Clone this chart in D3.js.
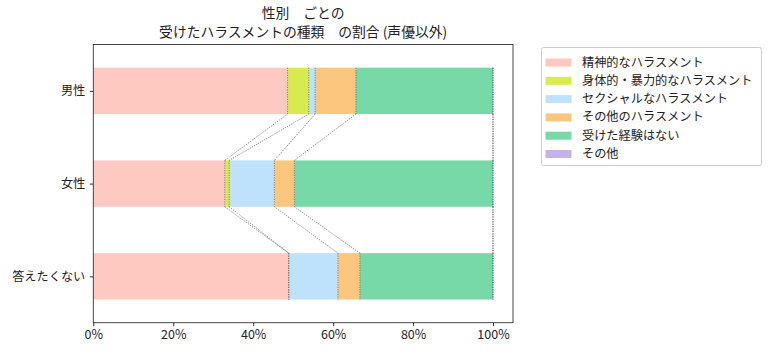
<!DOCTYPE html>
<html><head><meta charset="utf-8">
<script src="https://cdn.jsdelivr.net/npm/d3@7"></script>
<style>body{margin:0;background:#fff}svg{display:block}text{font-family:"Noto Sans CJK JP","Noto Sans",sans-serif;fill:#222}</style>
</head><body><svg id="c" width="772" height="356"></svg>
<script>
const categories = ["男性", "女性", "答えたくない"];
const seriesNames = ["精神的なハラスメント", "身体的・暴力的なハラスメント", "セクシャルなハラスメント", "その他のハラスメント", "受けた経験はない", "その他"];
const colors = ["#fec9c1", "#d8eb4e", "#bee2fb", "#fdc67e", "#77d9a8", "#c7b2e7"];
const male   = [48.6, 5.3, 1.6, 10.2, 34.3, 0];
const female = [32.9, 1.1, 11.3, 5.0, 49.7, 0];
const noAns  = [48.9, 0.0, 12.3, 5.5, 33.3, 0];
const xTicks = [0, 20, 40, 60, 80, 100];
const titleLines = ["性別　ごとの", "受けたハラスメントの種類　の割合 (声優以外)"];

const values = [male, female, noAns];
const svg = d3.select("#c");
const L = 93.3, R = 513, T = 44.5, B = 322.7;
const x = d3.scaleLinear().domain([0, 105]).range([L, R]);
const y = d3.scaleLinear().domain([-0.5, 2.5]).range([T, B]);
const bh = 0.5;

const cum = values.map(v => { let s = 0; return v.map(d => { const a = s; s += d; return [a, s]; }); });

cum.forEach((row, i) => {
  row.forEach((seg, j) => {
    if (seg[1] - seg[0] <= 0) return;
    svg.append("rect").attr("x", x(seg[0])).attr("width", x(seg[1]) - x(seg[0]))
      .attr("y", y(i - bh / 2)).attr("height", y(i + bh / 2) - y(i - bh / 2))
      .attr("fill", colors[j]);
  });
});

const dot = sel => sel.attr("stroke", "#555").attr("stroke-width", 0.7).attr("stroke-dasharray", "1.2,1.2").attr("fill", "none");
cum.forEach((row, i) => {
  row.forEach((seg, j) => {
    svg.append("line").attr("x1", x(seg[1])).attr("x2", x(seg[1]))
      .attr("y1", y(i - bh / 2)).attr("y2", y(i + bh / 2)).call(dot);
    if (i < cum.length - 1) {
      svg.append("line").attr("x1", x(seg[1])).attr("x2", x(cum[i + 1][j][1]))
        .attr("y1", y(i + bh / 2)).attr("y2", y(i + 1 - bh / 2)).call(dot);
    }
  });
});

svg.append("rect").attr("x", L).attr("y", T).attr("width", R - L).attr("height", B - T)
  .attr("fill", "none").attr("stroke", "#333").attr("stroke-width", 0.9);

const xa = svg.append("g").attr("transform", `translate(0,${B})`)
  .call(d3.axisBottom(x).tickValues(xTicks).tickFormat(d => d + "%").tickSize(3.5).tickPadding(3.5));
xa.select(".domain").remove();
xa.selectAll("line").attr("stroke", "#333");
xa.selectAll("text").style("font-size", "12.5px").attr("fill", "#222");

const ya = svg.append("g").attr("transform", `translate(${L},0)`)
  .call(d3.axisLeft(y).tickValues([0, 1, 2]).tickFormat(i => categories[i]).tickSize(3.5).tickPadding(4.5));
ya.select(".domain").remove();
ya.selectAll("line").attr("stroke", "#333");
ya.selectAll("text").style("font-size", "12.2px").attr("fill", "#222");

titleLines.forEach((t, k) => {
  svg.append("text").attr("x", (L + R) / 2).attr("y", 18 + k * 19).attr("text-anchor", "middle")
    .style("font-size", "13.8px").text(t);
});

const lg = svg.append("g");
lg.append("rect").attr("x", 541.5).attr("y", 47.5).attr("width", 220).attr("height", 118).attr("rx", 2)
  .attr("fill", "#fff").attr("stroke", "#ccc").attr("stroke-width", 1);
seriesNames.forEach((n, k) => {
  const cy = 62 + k * 18.3;
  lg.append("rect").attr("x", 545.5).attr("y", cy - 3.5).attr("width", 26).attr("height", 8).attr("fill", colors[k]);
  lg.append("text").attr("x", 582).attr("y", cy + 4.5).style("font-size", "12.2px").text(n);
});
</script></body></html>
